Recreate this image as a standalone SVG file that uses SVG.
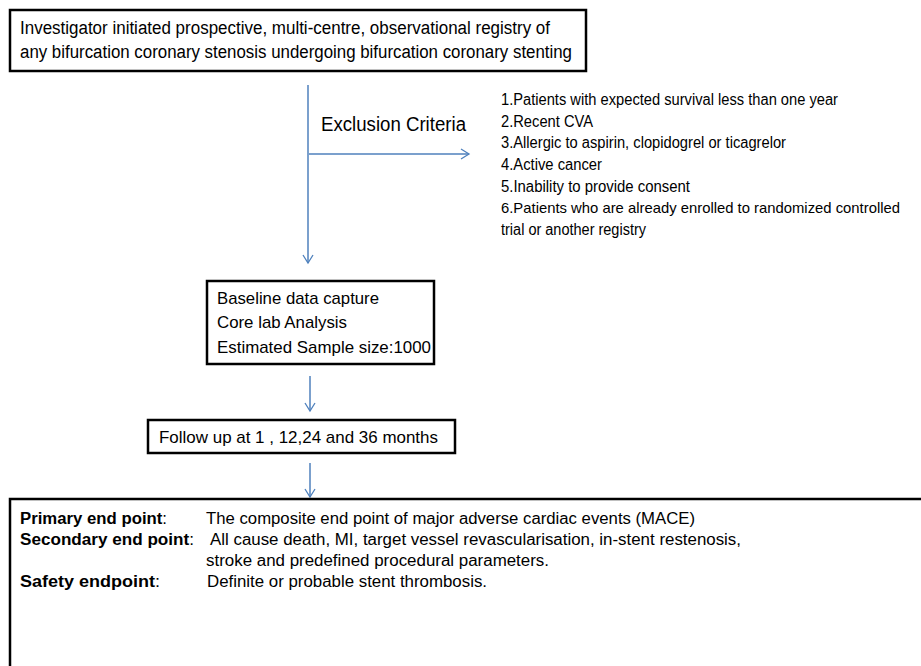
<svg xmlns="http://www.w3.org/2000/svg" width="921" height="666" viewBox="0 0 921 666">
<defs>
<marker id="arr" markerWidth="12" markerHeight="12" refX="10" refY="6" orient="auto" markerUnits="userSpaceOnUse">
<path d="M2,1 L10,6 L2,11" fill="none" stroke="#4f81bd" stroke-width="1.3"/>
</marker>
</defs>
<style>
text{font-family:"Liberation Sans",Arial,sans-serif;fill:#000;}
.box{fill:#fff;stroke:#000;stroke-width:2.5;}
.conn{fill:none;stroke:#4f81bd;stroke-width:1.5;}
.t18{font-size:18px;}
.t17{font-size:17px;}
.t16{font-size:16px;}
.t15{font-size:15px;}
.t20{font-size:20px;}
.b{font-weight:bold;}
</style>
<rect width="921" height="666" fill="#fff"/>
<g id="connectors">
<line class="conn" x1="308" y1="85" x2="308" y2="263" marker-end="url(#arr)"/>
<line class="conn" x1="309" y1="154" x2="469" y2="154" marker-end="url(#arr)"/>
<line class="conn" x1="310" y1="376" x2="310" y2="411" marker-end="url(#arr)"/>
<line class="conn" x1="310" y1="463" x2="310" y2="497" marker-end="url(#arr)"/>
</g>
<g id="node-registry">
<rect class="box" x="10" y="10" width="576" height="61"/>
<text class="t18" x="20" y="34" textLength="530" lengthAdjust="spacingAndGlyphs">Investigator initiated prospective, multi-centre, observational registry of</text>
<text class="t18" x="20" y="58" textLength="552" lengthAdjust="spacingAndGlyphs">any bifurcation coronary stenosis undergoing bifurcation coronary stenting</text>
</g>
<g id="label-exclusion">
<text class="t20" x="321" y="131" textLength="145" lengthAdjust="spacingAndGlyphs">Exclusion Criteria</text>
</g>
<g id="node-exclusion-list">
<text class="t16" x="501" y="105" textLength="337" lengthAdjust="spacingAndGlyphs">1.Patients with  expected survival less than one year</text>
<text class="t16" x="501" y="127" textLength="92" lengthAdjust="spacingAndGlyphs">2.Recent CVA</text>
<text class="t16" x="501" y="148" textLength="285" lengthAdjust="spacingAndGlyphs">3.Allergic to aspirin, clopidogrel or ticagrelor</text>
<text class="t16" x="501" y="170" textLength="101" lengthAdjust="spacingAndGlyphs">4.Active  cancer</text>
<text class="t16" x="501" y="192" textLength="189" lengthAdjust="spacingAndGlyphs">5.Inability  to provide consent</text>
<text class="t15" x="501" y="213" textLength="399" lengthAdjust="spacingAndGlyphs">6.Patients who are already enrolled to randomized controlled</text>
<text class="t16" x="501" y="235" textLength="145" lengthAdjust="spacingAndGlyphs">trial or another registry</text>
</g>
<g id="node-baseline">
<rect class="box" x="207" y="281" width="227" height="83"/>
<text class="t17" x="217" y="304" textLength="162" lengthAdjust="spacingAndGlyphs">Baseline data capture</text>
<text class="t17" x="217" y="328" textLength="130" lengthAdjust="spacingAndGlyphs">Core lab Analysis</text>
<text class="t17" x="217" y="353" textLength="214" lengthAdjust="spacingAndGlyphs">Estimated Sample size:1000</text>
</g>
<g id="node-followup">
<rect class="box" x="148" y="420" width="307" height="33"/>
<text class="t17" x="159" y="443" textLength="279" lengthAdjust="spacingAndGlyphs">Follow up at 1 ,  12,24  and 36 months</text>
</g>
<g id="node-endpoints">
<rect class="box" x="10" y="499" width="930" height="190"/>
<text class="t16" x="20" y="524" textLength="147" lengthAdjust="spacingAndGlyphs"><tspan class="b">Primary end point</tspan>:</text>
<text class="t16" x="206" y="524" textLength="489" lengthAdjust="spacingAndGlyphs">The composite end point of major adverse cardiac events (MACE)</text>
<text class="t16" x="20" y="545" textLength="174" lengthAdjust="spacingAndGlyphs"><tspan class="b">Secondary end point</tspan>:</text>
<text class="t16" x="210" y="545" textLength="531" lengthAdjust="spacingAndGlyphs">All cause death, MI,  target vessel revascularisation, in-stent restenosis,</text>
<text class="t16" x="206" y="566" textLength="343" lengthAdjust="spacingAndGlyphs">stroke and predefined procedural parameters.</text>
<text class="t16" x="20" y="587" textLength="140" lengthAdjust="spacingAndGlyphs"><tspan class="b">Safety endpoint</tspan>:</text>
<text class="t16" x="207" y="587" textLength="280" lengthAdjust="spacingAndGlyphs">Definite or probable stent thrombosis.</text>
</g>
</svg>
